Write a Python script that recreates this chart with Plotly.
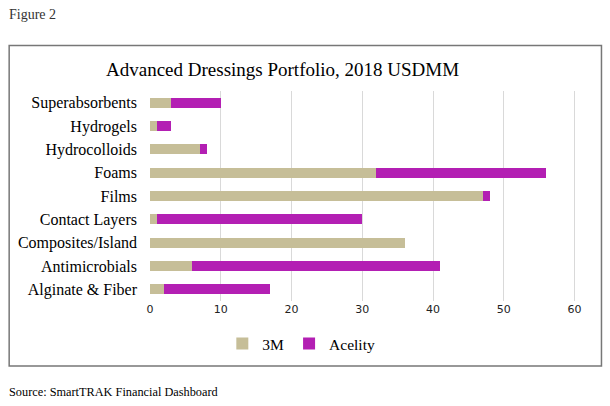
import plotly.graph_objects as go

categories = ["Superabsorbents", "Hydrogels", "Hydrocolloids", "Foams", "Films",
              "Contact Layers", "Composites/Island", "Antimicrobials", "Alginate & Fiber"]
values_3m = [3, 1, 7, 32, 47, 1, 36, 6, 2]
values_acelity = [7, 2, 1, 24, 1, 29, 0, 35, 15]
x_ticks = [0, 10, 20, 30, 40, 50, 60]

W, H = 610, 406
L, R, T, B = 149.5, 576, 91, 301
pw, ph = R - L, B - T

def px(x):
    return (x - L) / pw

def py(y):
    return (B - y) / ph

serif = "Liberation Serif"

fig = go.Figure()
fig.add_trace(go.Bar(y=categories, x=values_3m, name="3M", orientation="h",
                     marker=dict(color="#C6BE98", line=dict(width=0)), width=0.43))
fig.add_trace(go.Bar(y=categories, x=values_acelity, name="Acelity", orientation="h",
                     marker=dict(color="#B31FB3", line=dict(width=0)), width=0.43))

fig.update_layout(
    width=W, height=H,
    margin=dict(l=L, r=W - R, t=T, b=H - B, pad=0, autoexpand=False),
    barmode="stack",
    paper_bgcolor="white", plot_bgcolor="white",
    font=dict(family=serif, color="#000000"),
    showlegend=True,
    legend=dict(orientation="h", x=px(301), y=py(344), xanchor="center", yanchor="middle",
                font=dict(family=serif, size=15.5, color="#000000"), traceorder="normal",
                itemwidth=30, itemsizing="constant", tracegroupgap=0),
    xaxis=dict(range=[0, 60.2], tickvals=x_ticks, showgrid=True, gridcolor="#D9D9D9",
               gridwidth=1, zeroline=False, showline=False, ticks="", automargin=False,
               tickfont=dict(family="DejaVu Sans", size=11, color="#222222")),
    yaxis=dict(autorange="reversed", showgrid=False, zeroline=False, showline=False,
               ticks="", ticklabelstandoff=12, automargin=False,
               tickfont=dict(family=serif, size=16, color="#000000")),
    shapes=[dict(type="rect", xref="paper", yref="paper",
                 x0=px(8.5), x1=px(601.5), y0=py(366), y1=py(45.5),
                 line=dict(color="#777777", width=1.5), fillcolor="rgba(0,0,0,0)", layer="below")],
    annotations=[
        dict(text="Advanced Dressings Portfolio, 2018 USDMM", xref="paper", yref="paper",
             x=px(282), y=py(70), xanchor="center", yanchor="middle", showarrow=False,
             font=dict(family=serif, size=19, color="#000000")),
        dict(text="Figure 2", xref="paper", yref="paper", x=px(6), y=py(15),
             xanchor="left", yanchor="middle", showarrow=False,
             font=dict(family=serif, size=14, color="#333333")),
        dict(text="Source: SmartTRAK Financial Dashboard", xref="paper", yref="paper",
             x=px(6), y=py(392), xanchor="left", yanchor="middle", showarrow=False,
             font=dict(family=serif, size=12.3, color="#000000")),
    ],
)

fig.write_html("out.html", config={"displayModeBar": False},
               post_script="document.body.style.margin='0';document.body.style.overflow='hidden';")
